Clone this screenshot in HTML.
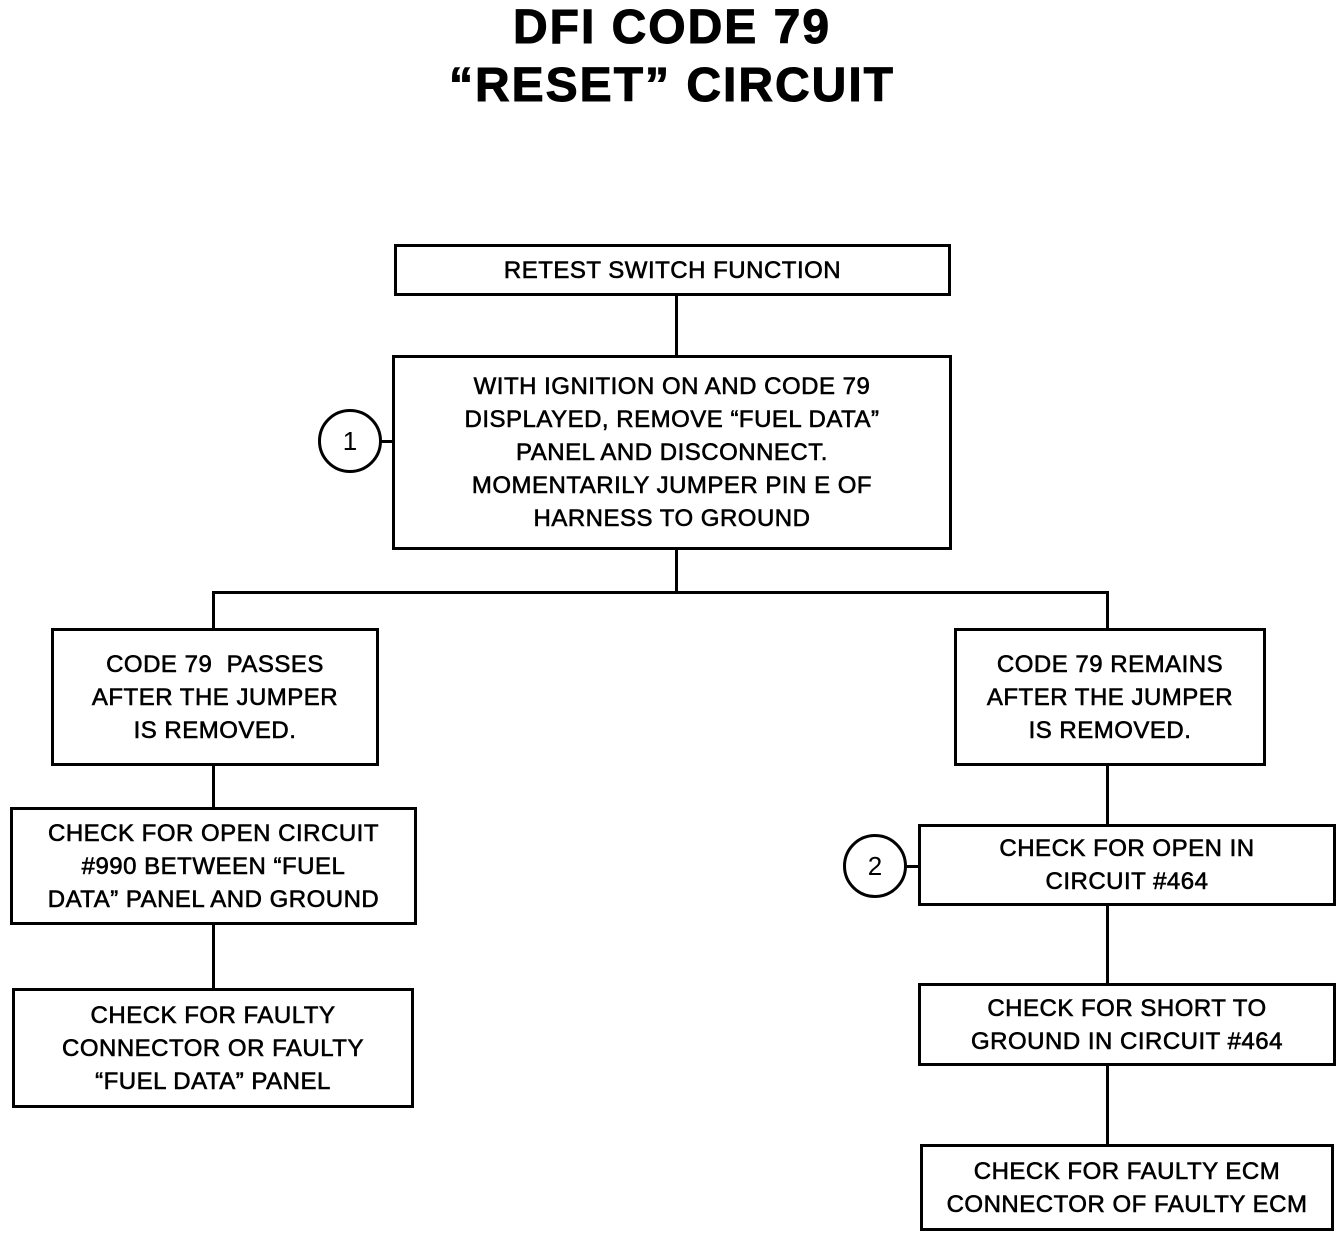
<!DOCTYPE html>
<html><head><meta charset="utf-8"><style>
html,body{margin:0;padding:0;background:#fff;}
body{width:1344px;height:1244px;position:relative;overflow:hidden;font-family:"Liberation Sans",Arial,sans-serif;color:#000;}
.t{position:absolute;left:0;width:1344px;text-align:center;font-weight:bold;font-size:48px;letter-spacing:2px;-webkit-text-stroke:1px #000;}
.b{position:absolute;border:3px solid #000;box-sizing:border-box;display:flex;align-items:center;justify-content:center;text-align:center;font-size:24px;line-height:33px;letter-spacing:0.5px;-webkit-text-stroke:0.6px #000;}
.v{position:absolute;width:3px;background:#000;}
.h{position:absolute;height:3px;background:#000;}
.c{position:absolute;border:3px solid #000;border-radius:50%;box-sizing:border-box;display:flex;align-items:center;justify-content:center;font-size:26px;}
</style></head><body>
<div class="t" style="top:0px;">DFI CODE 79</div>
<div class="t" style="top:58px;">“RESET” CIRCUIT</div>

<div class="b" style="left:394px;top:244px;width:557px;height:52px;">RETEST SWITCH FUNCTION</div>
<div class="v" style="left:675px;top:295px;height:62px;"></div>
<div class="b" style="left:392px;top:355px;width:560px;height:195px;">WITH IGNITION ON AND CODE 79<br>DISPLAYED, REMOVE “FUEL DATA”<br>PANEL AND DISCONNECT.<br>MOMENTARILY JUMPER PIN E OF<br>HARNESS TO GROUND</div>
<div class="c" style="left:318px;top:409px;width:64px;height:64px;">1</div>
<div class="h" style="left:380px;top:440px;width:14px;"></div>
<div class="v" style="left:675px;top:548px;height:45px;"></div>
<div class="h" style="left:212px;top:591px;width:897px;"></div>
<div class="v" style="left:212px;top:591px;height:39px;"></div>
<div class="v" style="left:1106px;top:591px;height:39px;"></div>

<div class="b" style="left:51px;top:628px;width:328px;height:138px;">CODE 79 &nbsp;PASSES<br>AFTER THE JUMPER<br>IS REMOVED.</div>
<div class="b" style="left:954px;top:628px;width:312px;height:138px;">CODE 79 REMAINS<br>AFTER THE JUMPER<br>IS REMOVED.</div>

<div class="v" style="left:212px;top:764px;height:45px;"></div>
<div class="b" style="left:10px;top:807px;width:407px;height:118px;">CHECK FOR OPEN CIRCUIT<br>#990 BETWEEN “FUEL<br>DATA” PANEL AND GROUND</div>
<div class="v" style="left:212px;top:923px;height:67px;"></div>
<div class="b" style="left:12px;top:988px;width:402px;height:120px;">CHECK FOR FAULTY<br>CONNECTOR OR FAULTY<br>“FUEL DATA” PANEL</div>

<div class="v" style="left:1106px;top:764px;height:62px;"></div>
<div class="b" style="left:918px;top:824px;width:418px;height:82px;">CHECK FOR OPEN IN<br>CIRCUIT #464</div>
<div class="c" style="left:843px;top:834px;width:64px;height:64px;">2</div>
<div class="h" style="left:905px;top:865px;width:14px;"></div>
<div class="v" style="left:1106px;top:904px;height:82px;"></div>
<div class="b" style="left:918px;top:983px;width:418px;height:83px;">CHECK FOR SHORT TO<br>GROUND IN CIRCUIT #464</div>
<div class="v" style="left:1106px;top:1064px;height:82px;"></div>
<div class="b" style="left:920px;top:1144px;width:414px;height:87px;">CHECK FOR FAULTY ECM<br>CONNECTOR OF FAULTY ECM</div>
</body></html>
